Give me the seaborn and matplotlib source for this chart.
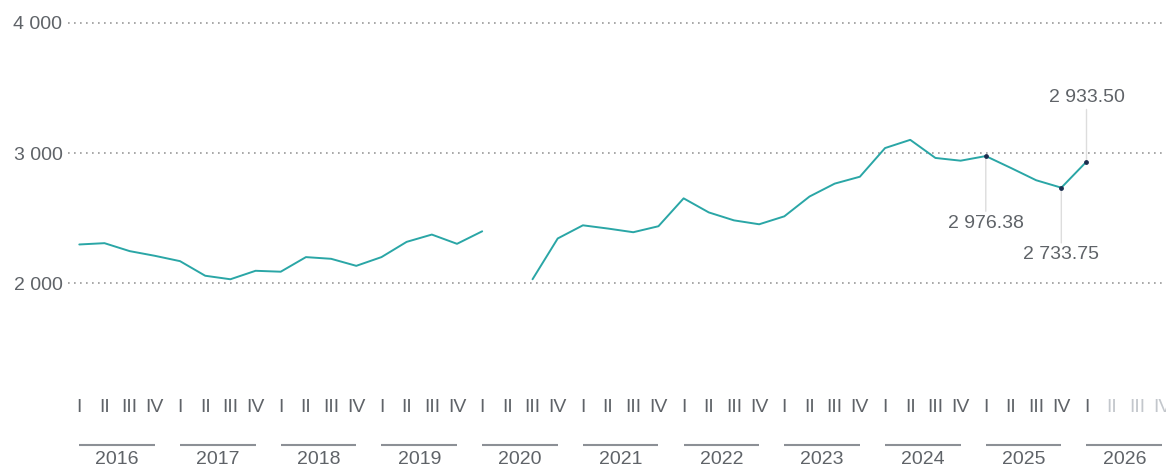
import numpy as np
import pandas as pd
import matplotlib
matplotlib.use('Agg')
import matplotlib.pyplot as plt
import matplotlib.transforms as mtransforms
import seaborn as sns

# %% Data: quarterly values, 2016 Q1 .. 2026 Q1 (2020 Q2 missing)
years = list(range(2016, 2027))
quarter_names = ['I', 'II', 'III', 'IV']
values = [
    2298, 2308, 2247, 2211,          # 2016
    2170, 2058, 2031, 2096,          # 2017
    2089, 2201, 2188, 2134,          # 2018
    2201, 2318, 2374, 2303,          # 2019
    2399, np.nan, 2031, 2344,        # 2020
    2445, 2420, 2392, 2438,          # 2021
    2652, 2544, 2483, 2453,          # 2022
    2514, 2666, 2765, 2818,          # 2023
    3038, 3101, 2962, 2941,          # 2024
    2976.38, 2885, 2791, 2733.75,    # 2025
    2933.50,                         # 2026
]
# which points get a value label, and whether the label sits above (+1) or below (-1)
labelled_idx = [36, 39, 40]
labelled_side = [-1, -1, 1]

df = pd.DataFrame({'idx': range(len(values)), 'value': values})
df['segment'] = df['value'].isna().cumsum()

# %% Style
text_col = '#5f6368'
line_col = '#2aa6a6'
sns.set_style('white')
plt.rcParams['font.family'] = ['Liberation Sans', 'DejaVu Sans']

fig = plt.figure(figsize=(11.66, 4.66), dpi=100)
W, H = 1166, 466
# axes box in pixels: x 68..1180, y 10..380
ax = fig.add_axes([68 / W, 1 - 380 / H, (1180 - 68) / W, 370 / H])

sns.lineplot(data=df, x='idx', y='value', units='segment', estimator=None,
             color=line_col, linewidth=1.4, ax=ax)

# quarter scale: 25.18 px per quarter, 2016 I at x=79.3
px_q = 25.18
ax.set_xlim((68 - 79.3) / px_q, (1180 - 79.3) / px_q)
px_u = 130.3 / 1000
ax.set_ylim(2000 - (380 - 283.3) / px_u, 4000 + (22.7 - 10) / px_u)

# y axis
yticks = [2000, 3000, 4000]
ax.set_yticks(yticks)
ax.set_yticklabels([f'{v:,.0f}'.replace(',', ' ') for v in yticks])
ax.yaxis.grid(True, linestyle=(0, (1, 2.6)), color='#9a9a9a', linewidth=1.2)
ax.xaxis.grid(False)

# x axis: quarter labels (the last three quarters of 2026 are greyed out)
n_q = len(years) * 4
ax.set_xticks(range(n_q))
ax.set_xticklabels(quarter_names * len(years))
for i, lab in enumerate(ax.get_xticklabels()):
    lab.set_color(text_col if i < len(values) else '#c3c7cc')
ax.tick_params(axis='x', length=0, pad=14, labelsize=14)
ax.tick_params(axis='y', length=0, pad=4, labelsize=14, labelcolor=text_col)
ax.set_xlabel('')
ax.set_ylabel('')

# year underlines + labels
trans = mtransforms.blended_transform_factory(ax.transData, fig.transFigure)
for k, yr in enumerate(years):
    x0, x1 = 4 * k, 4 * k + 3
    ax.plot([x0, x1], [1 - 445 / H] * 2, transform=trans, color='#8c9096',
            linewidth=1.5, clip_on=False, solid_capstyle='butt')
    ax.text((x0 + x1) / 2, 1 - 451 / H, str(yr), transform=trans,
            ha='center', va='top', fontsize=14, color=text_col)

# value labels for selected points
for i, side in zip(labelled_idx, labelled_side):
    v = values[i]
    ax.annotate(f'{v:,.2f}'.replace(',', ' '), xy=(i, v),
                xytext=(0, (64 if side > 0 else 67) * side),
                textcoords='offset pixels',
                ha='center', va='center', fontsize=14, color=text_col,
                arrowprops=dict(arrowstyle='-', color='#dddddd', lw=1,
                                shrinkA=0, shrinkB=0))
    ax.scatter([i], [v], s=6, color='#1b2d4f', zorder=5)

sns.despine(left=True, bottom=True)
fig.savefig('out.png', dpi=100)
